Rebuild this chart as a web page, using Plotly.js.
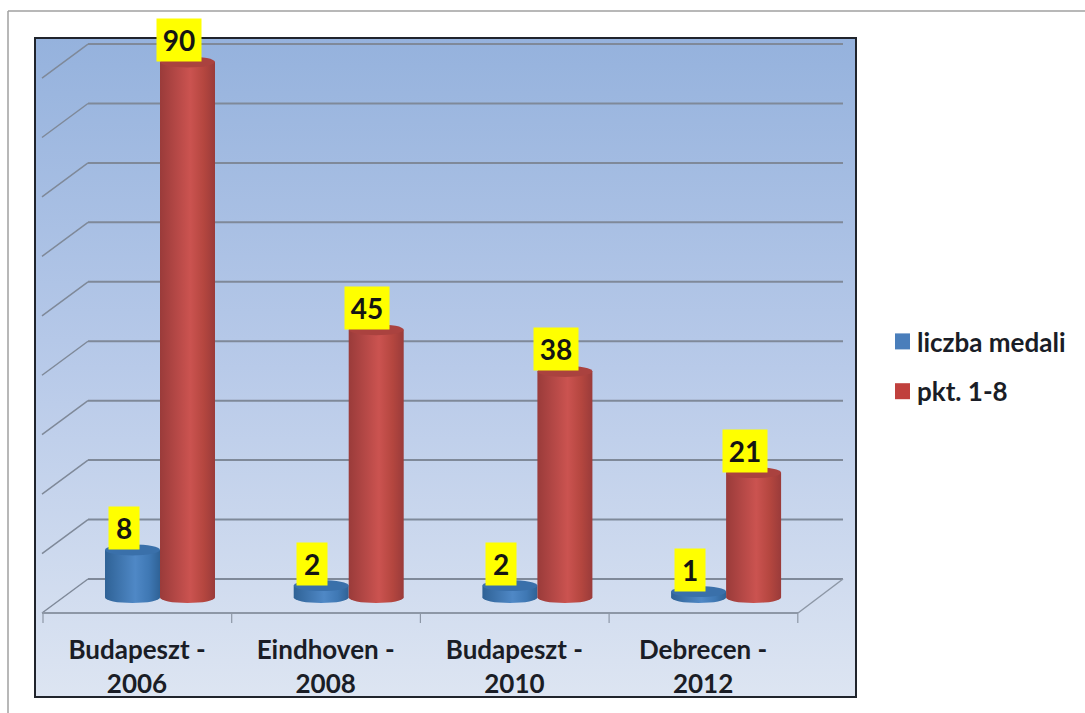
<!DOCTYPE html>
<html>
<head>
<meta charset="utf-8">
<script src="https://cdn.plot.ly/plotly-3.0.1.min.js"></script>
<style>html,body{margin:0;padding:0;background:#fff;overflow:hidden}</style>
</head>
<body>
<div id="chart" style="width:1085px;height:713px"></div>
<script>
var cities = ['Budapeszt -', 'Eindhoven -', 'Budapeszt -', 'Debrecen -'];
var years = ['2006', '2008', '2010', '2012'];
var categories = ['Budapeszt - 2006', 'Eindhoven - 2008', 'Budapeszt - 2010', 'Debrecen - 2012'];
var medals = [8, 2, 2, 1];
var points = [90, 45, 38, 21];
var gridValues = [0, 10, 20, 30, 40, 50, 60, 70, 80, 90];
var seriesNames = ['liczba medali', 'pkt. 1-8'];

var W = 1085, H = 713;
var L = 35, R = 856, T = 38, B = 697;
var step = 188.7, cat0 = 160, barPx = 55;
var base = 597.5, k = 5.95, backBase = 579, backK = 5.944;
var xRange = [(L - cat0) / step, (R - cat0) / step];
var yRange = [(base - B) / k, (base - T) / k];
var labelC0 = 137;
var labelRange = [(L - labelC0) / step, (R - labelC0) / step];
var barW = barPx / step;
var ry = 5.5 / k;
var FONT = 'Lato, sans-serif';

function px(p) { return (p - L) / (R - L); }
function py(p) { return (B - p) / (B - T); }
function backPx(v) { return backBase - backK * v; }

var GRID = '#7f8999', FLOOR = '#8d97a6';
var shapes = [];
// outer frame
shapes.push({type:'line',xref:'paper',yref:'paper',x0:px(8),x1:px(1085),y0:py(11),y1:py(11),line:{color:'#a0a0a0',width:1.5},layer:'below'});
shapes.push({type:'line',xref:'paper',yref:'paper',x0:px(8),x1:px(8),y0:py(11),y1:py(713),line:{color:'#a0a0a0',width:1.5},layer:'below'});
// back wall and side wall grid
gridValues.forEach(function (v) {
  var p = backPx(v);
  shapes.push({type:'line',xref:'paper',yref:'paper',x0:px(88),x1:px(843),y0:py(p),y1:py(p),line:{color:GRID,width:2},layer:'below'});
  shapes.push({type:'line',xref:'paper',yref:'paper',x0:px(42),x1:px(88),y0:py(p+34),y1:py(p),line:{color:GRID,width:1.5},layer:'below'});
});
// floor
shapes.push({type:'line',xref:'paper',yref:'paper',x0:px(42),x1:px(798),y0:py(613),y1:py(613),line:{color:FLOOR,width:2},layer:'below'});
shapes.push({type:'line',xref:'paper',yref:'paper',x0:px(798),x1:px(843),y0:py(613),y1:py(579),line:{color:FLOOR,width:1.5},layer:'below'});
categories.concat(['end']).forEach(function (c, i) {
  var p = 43 + i * step;
  shapes.push({type:'line',xref:'paper',yref:'paper',x0:px(p),x1:px(p),y0:py(613),y1:py(623),line:{color:FLOOR,width:1.2},layer:'below'});
});
// cylinder caps
function caps(values, offset, bottom, top) {
  values.forEach(function (v, i) {
    var c = i + offset;
    shapes.push({type:'circle',xref:'x',yref:'y',x0:c-barW/2,x1:c+barW/2,y0:-ry,y1:ry,fillcolor:bottom,line:{width:0},layer:'below'});
    shapes.push({type:'circle',xref:'x',yref:'y',x0:c-barW/2,x1:c+barW/2,y0:v-ry,y1:v+ry,fillcolor:top,line:{width:0},layer:'above'});
  });
}
var BLUE_BOTTOM = 'rgb(61,116,173)', RED_BOTTOM = 'rgb(181,71,67)';
caps(medals, -barW/2, BLUE_BOTTOM, 'rgb(58,112,170)');
caps(points, barW/2, RED_BOTTOM, 'rgb(170,66,63)');
// plot frame
shapes.push({type:'rect',xref:'paper',yref:'paper',x0:0,x1:1,y0:0,y1:1,line:{color:'#20242c',width:2},layer:'above'});

function labels(values, offset) {
  return values.map(function (v, i) {
    return {x:i+offset,y:v,xref:'x',yref:'y',text:String(v),showarrow:false,xanchor:'center',yanchor:'bottom',
      xshift:-9,yshift:0,bgcolor:'#ffff00',width:String(v).length>1?42:28,height:40,
      font:{family:FONT,size:28,color:'#141414',weight:700}};
  });
}

var grad = "<svg xmlns='http://www.w3.org/2000/svg' width='10' height='100' preserveAspectRatio='none'>" +
  "<defs><linearGradient id='g' x1='0' y1='0' x2='0' y2='1'><stop offset='0' stop-color='#95b2dd'/>" +
  "<stop offset='0.5' stop-color='#b8cae9'/><stop offset='1' stop-color='#dde5f2'/></linearGradient></defs>" +
  "<rect width='10' height='100' fill='url(#g)'/></svg>";

var traces = [
  {type:'bar',name:seriesNames[0],x:categories,y:medals,marker:{color:'#4a7ebb'},legendgroup:'a',hoverinfo:'y+name',cliponaxis:false},
  {type:'bar',name:seriesNames[1],x:categories,y:points,marker:{color:'#c0403d'},legendgroup:'b',hoverinfo:'y+name',cliponaxis:false},
  {type:'scatter',mode:'markers',x:[0,1,2,3],y:[0,0,0,0],xaxis:'x2',yaxis:'y',marker:{opacity:0,size:1},showlegend:false,hoverinfo:'skip'},
  {type:'scatter',mode:'markers',x:[0,1,2,3],y:[0,0,0,0],xaxis:'x3',yaxis:'y',marker:{opacity:0,size:1},showlegend:false,hoverinfo:'skip'}
];

function labelAxis(text, len) {
  return {overlaying:'x',anchor:'free',position:py(613),side:'bottom',range:labelRange,type:'linear',
    tickmode:'array',tickvals:[0,1,2,3],ticktext:text,ticks:'outside',ticklen:len,tickcolor:'rgba(0,0,0,0)',tickwidth:1,
    showgrid:false,zeroline:false,showline:false,fixedrange:true,
    tickfont:{family:FONT,size:26,color:'#1a1d26',weight:700}};
}

var layout = {
  width:W,height:H,
  margin:{l:L,r:W-R,t:T,b:H-B,pad:0},
  paper_bgcolor:'#ffffff',plot_bgcolor:'#b8cae9',
  barmode:'group',bargap:1-2*barPx/step,bargroupgap:0,
  xaxis:{type:'category',range:xRange,visible:false,fixedrange:true},
  yaxis:{range:yRange,visible:false,fixedrange:true},
  xaxis2:labelAxis(cities,14),
  xaxis3:labelAxis(years,48),
  shapes:shapes,
  annotations:labels(medals,-barW/2).concat(labels(points,barW/2)),
  images:[{source:'data:image/svg+xml,'+encodeURIComponent(grad),xref:'paper',yref:'paper',x:0,y:1,sizex:1,sizey:1,sizing:'stretch',layer:'below',xanchor:'left',yanchor:'top'}],
  showlegend:true,
  legend:{x:(877-L)/(R-L),y:py(318),xanchor:'left',yanchor:'top',tracegroupgap:13,bgcolor:'rgba(0,0,0,0)',
    font:{family:FONT,size:26,color:'#1a1d26',weight:700}}
};

function stops(id, dark, mid, light) {
  return '<linearGradient id="'+id+'" x1="0" y1="0" x2="1" y2="0">'+
    '<stop offset="0" stop-color="'+dark+'"/><stop offset="0.55" stop-color="'+light+'"/>'+
    '<stop offset="0.8" stop-color="'+mid+'"/><stop offset="1" stop-color="'+dark+'"/></linearGradient>';
}
function shade() {
  var svg = document.querySelector('#chart .main-svg');
  if (!document.getElementById('cylBlue')) {
    var d = document.createElementNS('http://www.w3.org/2000/svg','defs');
    d.innerHTML = stops('cylBlue','#2f6296','#3f78b4','#4f88c6') + stops('cylRed','#9a3b3a','#b4463f','#cb5350');
    svg.insertBefore(d, svg.firstChild);
  }
  var tr = document.querySelectorAll('#chart .barlayer .trace');
  tr.forEach(function (t, i) {
    t.querySelectorAll('.point path').forEach(function (p) {
      p.style.fill = 'url(#' + (i === 0 ? 'cylBlue' : 'cylRed') + ')';
    });
  });
  document.querySelectorAll('#chart .shapelayer path').forEach(function (p) {
    var f = p.style.fill.replace(/\s/g,'');
    if (f === BLUE_BOTTOM.replace(/\s/g,'')) p.style.fill = 'url(#cylBlue)';
    if (f === RED_BOTTOM.replace(/\s/g,'')) p.style.fill = 'url(#cylRed)';
  });
  document.querySelectorAll('#chart .legend .legendpoints path').forEach(function (p) {
    p.setAttribute('d', 'M13,8H-2V-8H13Z');
  });
}
Plotly.newPlot('chart', traces, layout, {displayModeBar:false}).then(function (gd) {
  shade();
  gd.on('plotly_afterplot', shade);
});
</script>
</body>
</html>
